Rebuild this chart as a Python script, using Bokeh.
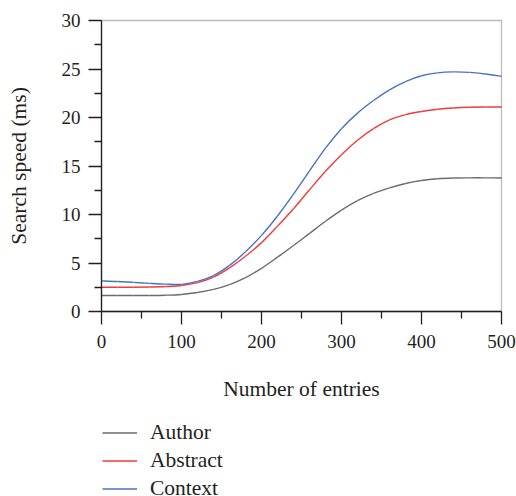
from bokeh.plotting import figure
from bokeh.models import (Legend, LegendItem, FixedTicker, Range1d, BoxAnnotation,
                          Label, ColumnDataSource)
from bokeh.embed import file_html
from bokeh.resources import INLINE
import math

# ---- data ----
entries = [0, 20, 40, 60, 80, 100, 120, 140, 160, 180, 200, 220, 240, 260,
           280, 300, 320, 340, 360, 380, 400, 420, 440, 460, 480, 500]
author = [1.65, 1.65, 1.65, 1.65, 1.68, 1.76, 1.96, 2.28, 2.78, 3.50, 4.45,
          5.60, 6.80, 8.05, 9.30, 10.45, 11.42, 12.18, 12.75, 13.2, 13.5,
          13.68, 13.76, 13.78, 13.78, 13.76]
abstract = [2.50, 2.50, 2.50, 2.52, 2.57, 2.68, 2.98, 3.55, 4.50, 5.70, 7.10,
            8.80, 10.6, 12.55, 14.45, 16.15, 17.65, 18.85, 19.75, 20.3, 20.62,
            20.85, 20.98, 21.05, 21.08, 21.08]
context = [3.16, 3.10, 3.00, 2.90, 2.82, 2.80, 3.10, 3.70, 4.75, 6.15, 7.85,
           9.85, 12.1, 14.5, 16.85, 18.85, 20.45, 21.75, 22.85, 23.7, 24.3,
           24.6, 24.7, 24.65, 24.48, 24.25]
series_names = ["Author", "Abstract", "Context"]
series_colors = ["#6b6b6b", "#f23a3a", "#4a72c4"]
x_ticks = [0, 100, 200, 300, 400, 500]
x_minor = [50, 150, 250, 350, 450]
y_ticks = [0, 5, 10, 15, 20, 25, 30]
y_minor = [2.5, 7.5, 12.5, 17.5, 22.5, 27.5]
X_MIN, X_MAX = 0, 500
Y_MIN, Y_MAX = 0, 30

FONT = "Liberation Serif"
INK = "#231f20"

# ---- layout (pixels) ----
W, H = 516, 496
BOX_L, BOX_T, BOX_W, BOX_H = 101, 20, 400, 291
sx = BOX_W / (X_MAX - X_MIN)
sy = BOX_H / (Y_MAX - Y_MIN)
x_range = Range1d(X_MIN - BOX_L / sx, X_MAX + (W - BOX_L - BOX_W) / sx)
y_range = Range1d(Y_MIN - (H - BOX_T - BOX_H) / sy, Y_MAX + BOX_T / sy)

p = figure(frame_width=W, frame_height=H,
           min_border_left=0, min_border_right=0, min_border_top=0,
           min_border_bottom=0,
           x_range=x_range, y_range=y_range,
           output_backend="svg", toolbar_location=None)
p.xgrid.visible = False
p.ygrid.visible = False
p.outline_line_color = None
p.background_fill_color = "white"
p.border_fill_color = "white"


def smooth_segments(xs, ys):
    """Catmull-Rom through the read points, as cubic Bezier segments."""
    n = len(xs)
    d = dict(x0=[], y0=[], x1=[], y1=[], cx0=[], cy0=[], cx1=[], cy1=[])
    for i in range(n - 1):
        a, b = max(i - 1, 0), min(i + 2, n - 1)
        d["x0"].append(xs[i]); d["y0"].append(ys[i])
        d["x1"].append(xs[i + 1]); d["y1"].append(ys[i + 1])
        d["cx0"].append(xs[i] + (xs[i + 1] - xs[a]) / 6)
        d["cy0"].append(ys[i] + (ys[i + 1] - ys[a]) / 6)
        d["cx1"].append(xs[i + 1] - (xs[b] - xs[i]) / 6)
        d["cy1"].append(ys[i + 1] - (ys[b] - ys[i]) / 6)
    return ColumnDataSource(d)


renderers = []
for ys, c in zip([author, abstract, context], series_colors):
    r = p.bezier("x0", "y0", "x1", "y1", "cx0", "cy0", "cx1", "cy1",
                 source=smooth_segments(entries, ys), line_color=c, line_width=1.4)
    renderers.append(r)

# box around the data area
p.add_layout(BoxAnnotation(left=X_MIN, right=X_MAX, bottom=Y_MIN, top=Y_MAX,
                           fill_color=None, line_color=INK, line_width=1.3))

p.xaxis.ticker = FixedTicker(ticks=x_ticks, minor_ticks=x_minor)
p.yaxis.ticker = FixedTicker(ticks=y_ticks, minor_ticks=y_minor)
p.xaxis.fixed_location = Y_MIN
p.yaxis.fixed_location = X_MIN
p.xaxis.bounds = (X_MIN, X_MAX)
p.yaxis.bounds = (Y_MIN, Y_MAX)

for ax in (p.xaxis[0], p.yaxis[0]):
    ax.axis_line_color = INK
    ax.axis_line_width = 1.3
    ax.major_tick_line_color = INK
    ax.major_tick_line_width = 1.3
    ax.minor_tick_line_color = INK
    ax.minor_tick_line_width = 1.3
    ax.major_tick_in = 0
    ax.major_tick_out = 13
    ax.minor_tick_in = 0
    ax.minor_tick_out = 7
    ax.major_label_text_font = FONT
    ax.major_label_text_font_size = "19px"
    ax.major_label_text_color = INK

p.xaxis.major_label_standoff = 10
p.yaxis.major_label_standoff = 8

# axis titles
p.add_layout(Label(x=(X_MIN + X_MAX) / 2, y=H - 388, y_units="screen",
                   text="Number of entries", text_font=FONT,
                   text_font_size="21.5px", text_color=INK,
                   text_align="center", text_baseline="middle"))
p.add_layout(Label(x=18, x_units="screen", y=(Y_MIN + Y_MAX) / 2,
                   text="Search speed (ms)", angle=math.pi / 2, text_font=FONT,
                   text_font_size="21.5px", text_color=INK,
                   text_align="center", text_baseline="middle"))

legend = Legend(
    items=[LegendItem(label=n, renderers=[r]) for n, r in zip(series_names, renderers)],
    location=(BOX_L + 1, -5), orientation="vertical",
    border_line_color=None, background_fill_alpha=0,
    label_text_font=FONT, label_text_font_size="21.5px", label_text_color=INK,
    glyph_width=35, glyph_height=25, label_height=25, spacing=3,
    label_standoff=13, padding=0, margin=0,
)
p.add_layout(legend, "center")

open("out.html", "w").write(file_html(p, INLINE))
